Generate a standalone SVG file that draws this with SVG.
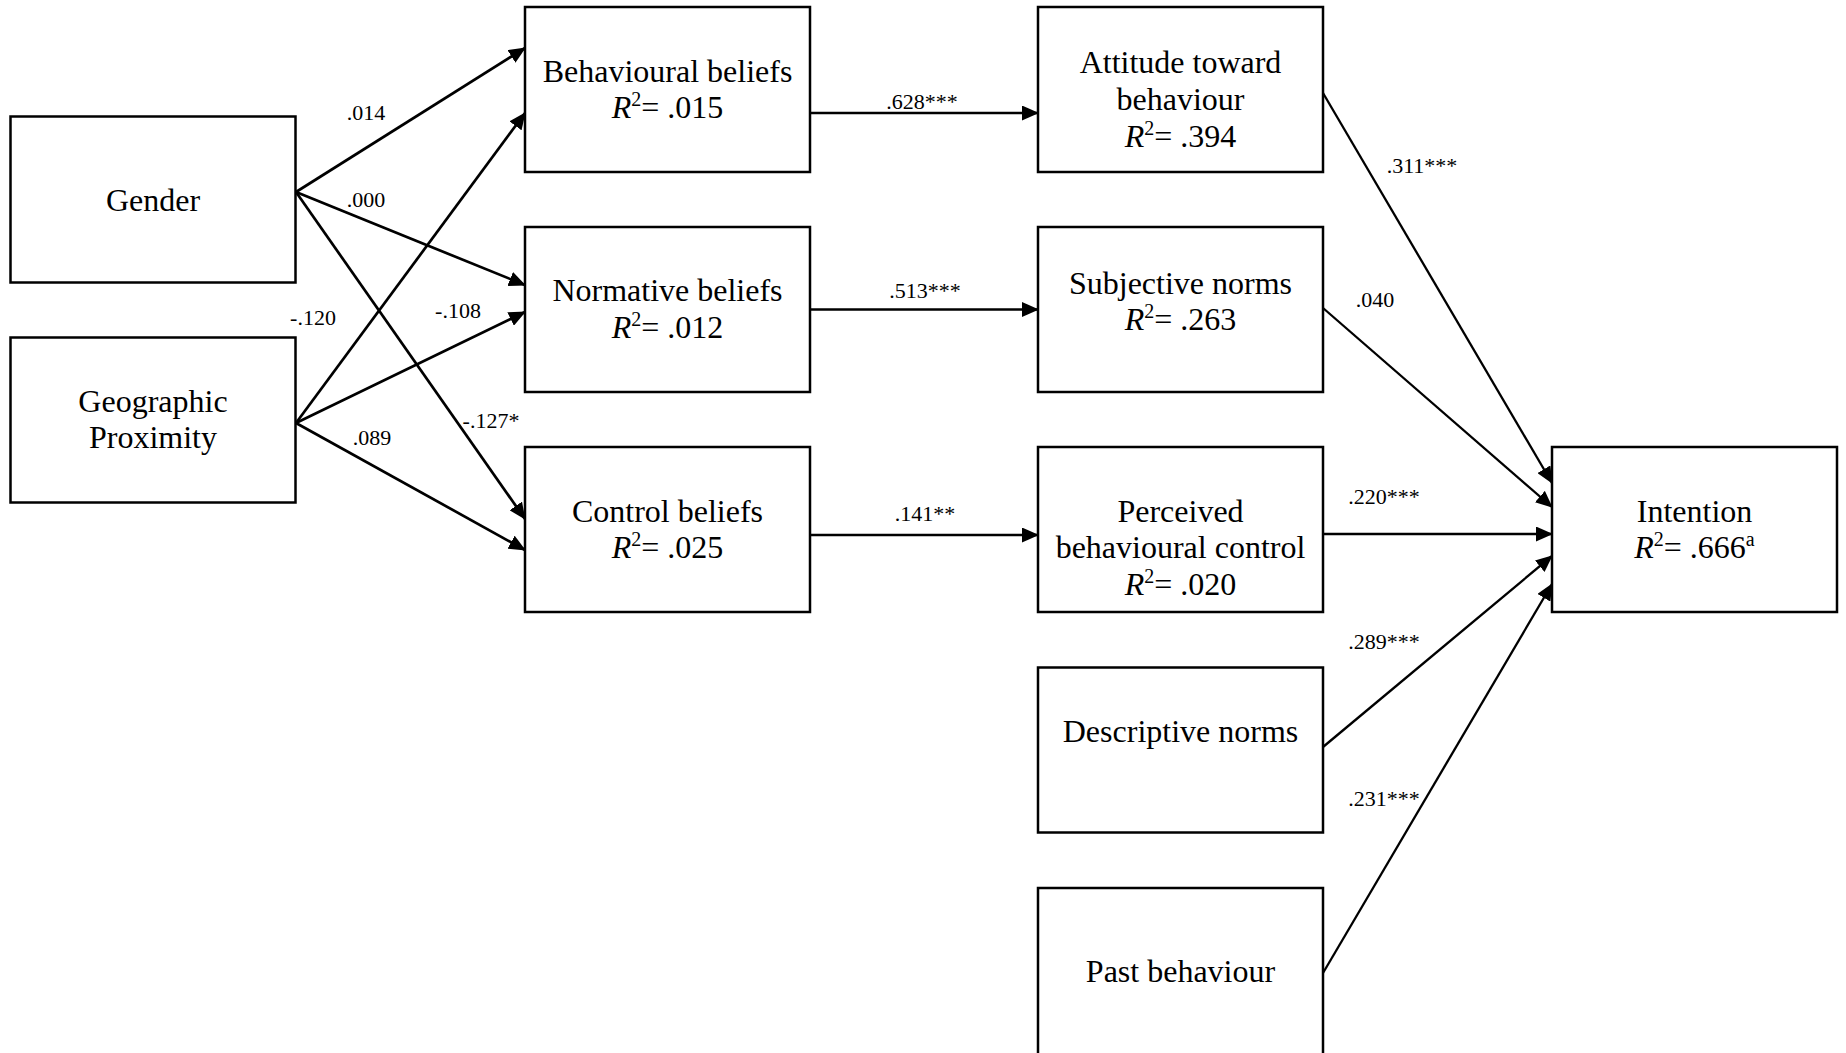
<svg xmlns="http://www.w3.org/2000/svg" width="1846" height="1053" viewBox="0 0 1846 1053">
<defs>
<marker id="ah" markerUnits="userSpaceOnUse" markerWidth="17" markerHeight="15" refX="16" refY="7.5" orient="auto"><path d="M0,0 L17,7.5 L0,15 z" fill="#000"/></marker>
</defs>
<style>
.box{fill:#fff;stroke:#000;stroke-width:2.5}
.t{font-family:"Liberation Serif","Times New Roman",serif;font-size:32px;text-anchor:middle;fill:#000}
.lb{font-family:"Liberation Serif","Times New Roman",serif;font-size:22px;text-anchor:middle;fill:#000}
.c{stroke:#000;stroke-width:2.7;fill:none;marker-end:url(#ah)}
.c2{stroke-width:2.3}
.i{font-style:italic}
</style>
<rect width="1846" height="1053" fill="#fff"/>
<g id="gender"><rect class="box" x="10.5" y="116.5" width="285" height="166"/><text class="t" x="153" y="211">Gender</text></g>
<g id="geo"><rect class="box" x="10.5" y="337.5" width="285" height="165"/><text class="t" x="153" y="412">Geographic</text><text class="t" x="153" y="448">Proximity</text></g>
<g id="behavioural-beliefs"><rect class="box" x="525" y="7" width="285" height="165"/><text class="t" x="667.5" y="82">Behavioural beliefs</text><text class="t" x="667.5" y="118"><tspan class="i">R</tspan><tspan dy="-12" font-size="20">2</tspan><tspan dy="12">= .015</tspan></text></g>
<g id="normative-beliefs"><rect class="box" x="525" y="227" width="285" height="165"/><text class="t" x="667.5" y="301">Normative beliefs</text><text class="t" x="667.5" y="338"><tspan class="i">R</tspan><tspan dy="-12" font-size="20">2</tspan><tspan dy="12">= .012</tspan></text></g>
<g id="control-beliefs"><rect class="box" x="525" y="447" width="285" height="165"/><text class="t" x="667.5" y="522">Control beliefs</text><text class="t" x="667.5" y="558"><tspan class="i">R</tspan><tspan dy="-12" font-size="20">2</tspan><tspan dy="12">= .025</tspan></text></g>
<g id="attitude"><rect class="box" x="1038" y="7" width="285" height="165"/><text class="t" x="1180.5" y="73">Attitude toward</text><text class="t" x="1180.5" y="110">behaviour</text><text class="t" x="1180.5" y="147"><tspan class="i">R</tspan><tspan dy="-12" font-size="20">2</tspan><tspan dy="12">= .394</tspan></text></g>
<g id="subjective-norms"><rect class="box" x="1038" y="227" width="285" height="165"/><text class="t" x="1180.5" y="294">Subjective norms</text><text class="t" x="1180.5" y="330"><tspan class="i">R</tspan><tspan dy="-12" font-size="20">2</tspan><tspan dy="12">= .263</tspan></text></g>
<g id="pbc"><rect class="box" x="1038" y="447" width="285" height="165"/><text class="t" x="1180.5" y="522">Perceived</text><text class="t" x="1180.5" y="558">behavioural control</text><text class="t" x="1180.5" y="595"><tspan class="i">R</tspan><tspan dy="-12" font-size="20">2</tspan><tspan dy="12">= .020</tspan></text></g>
<g id="descriptive-norms"><rect class="box" x="1038" y="667.5" width="285" height="165"/><text class="t" x="1180.5" y="742">Descriptive norms</text></g>
<g id="past-behaviour"><rect class="box" x="1038" y="888" width="285" height="200"/><text class="t" x="1180.5" y="982">Past behaviour</text></g>
<g id="intention"><rect class="box" x="1552" y="447" width="285" height="165"/><text class="t" x="1694.5" y="522">Intention</text><text class="t" x="1694.5" y="558"><tspan class="i">R</tspan><tspan dy="-12" font-size="20">2</tspan><tspan dy="12">= .666</tspan><tspan dy="-12" font-size="20">a</tspan></text></g>
<g id="connectors">
<path class="c" d="M296,192 L525,48"/>
<path class="c" d="M296,192 L525,285"/>
<path class="c" d="M296,192 L525,519"/>
<path class="c" d="M296,423 L525,113"/>
<path class="c" d="M296,423 L525,312"/>
<path class="c" d="M296,423 L525,550"/>
<path class="c" d="M810,113 L1038,113"/>
<path class="c" d="M810,309.5 L1038,309.5"/>
<path class="c" d="M810,535 L1038,535"/>
<path class="c c2" d="M1323,93 L1552,483"/>
<path class="c c2" d="M1323,308 L1552,507"/>
<path class="c" d="M1323,534 L1552,534"/>
<path class="c c2" d="M1323,747 L1552,556"/>
<path class="c c2" d="M1323,973 L1552,584"/>
</g>
<g id="labels">
<text class="lb" x="366" y="120">.014</text>
<text class="lb" x="366" y="207">.000</text>
<text class="lb" x="313" y="325">-.120</text>
<text class="lb" x="458" y="318">-.108</text>
<text class="lb" x="491" y="428">-.127*</text>
<text class="lb" x="372" y="445">.089</text>
<text class="lb" x="922" y="109">.628***</text>
<text class="lb" x="925" y="298">.513***</text>
<text class="lb" x="925" y="521">.141**</text>
<text class="lb" x="1422" y="173">.311***</text>
<text class="lb" x="1375" y="307">.040</text>
<text class="lb" x="1384" y="504">.220***</text>
<text class="lb" x="1384" y="649">.289***</text>
<text class="lb" x="1384" y="806">.231***</text>
</g>
</svg>
